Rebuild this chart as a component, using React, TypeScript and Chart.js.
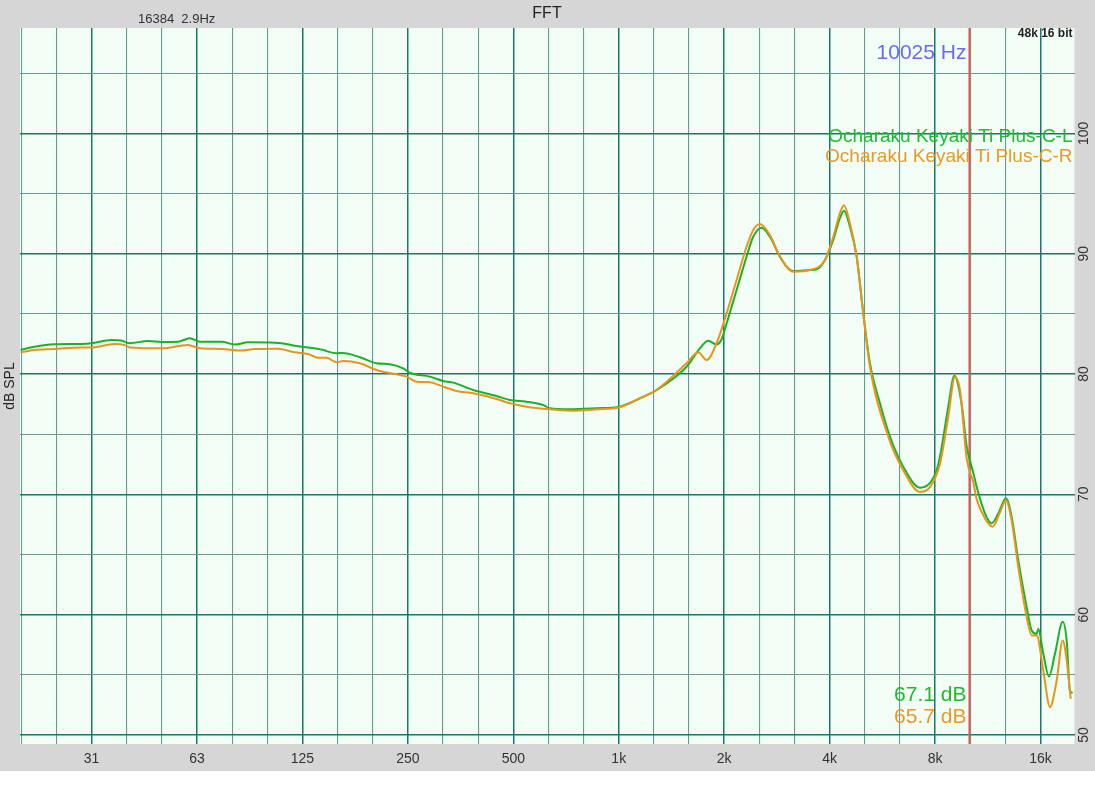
import React, { useEffect, useRef } from "react";
import { Chart, registerables } from "chart.js";

Chart.register(...registerables);

const FONT = '"Liberation Sans", Arial, Helvetica, sans-serif';

// ---- data ----
const freqL = [19.6, 21.5, 24.5, 29.2, 31.2, 35.6, 38.0, 40.2, 45.3, 49.5, 55.2, 59.6, 63.7, 73.4, 80.1, 87.5, 104.2, 108.9, 118.9, 129.8, 143.2, 146.4, 156.4, 163, 182.3, 203.5, 222, 242.4, 253.3, 288.8, 315.2, 336.6, 384, 447.8, 488.7, 545.5, 608.4, 635.7, 725.2, 864.2, 1007, 1076, 1149, 1283, 1562, 1705, 1800, 1902, 1960, 2032, 2170, 2317, 2420, 2557, 2701, 2885, 3015, 3148, 3513, 3672, 3879, 4096, 4279, 4394, 4570, 4777, 4988, 5213, 5568, 5945, 6488, 7242, 7734, 8082, 8259, 8630, 8722, 9080, 9525, 9843, 10281, 10513, 11103, 11603, 12118, 12747, 13235, 13822, 14606, 15095, 15599, 15763, 16290, 16911, 17591, 18505, 18999, 19415, 19763];
const splL = [82.0, 82.27, 82.47, 82.5, 82.55, 82.83, 82.78, 82.55, 82.74, 82.66, 82.68, 82.97, 82.68, 82.68, 82.44, 82.63, 82.6, 82.55, 82.35, 82.2, 82.0, 81.9, 81.72, 81.75, 81.39, 80.89, 80.8, 80.47, 80.1, 79.78, 79.42, 79.28, 78.67, 78.17, 77.84, 77.7, 77.42, 77.15, 77.07, 77.15, 77.28, 77.6, 77.98, 78.67, 80.6, 82.13, 82.77, 82.45, 82.8, 84.2, 86.98, 89.75, 91.4, 92.16, 91.4, 89.75, 88.92, 88.56, 88.64, 88.7, 89.48, 91.14, 92.94, 93.57, 92.24, 89.75, 85.05, 80.9, 77.56, 74.79, 72.3, 70.55, 70.95, 72.02, 73.13, 76.45, 77.28, 79.85, 77.5, 74.0, 71.8, 70.63, 68.42, 67.59, 68.4, 69.67, 68.1, 64.5, 60.62, 58.68, 58.4, 58.82, 56.75, 54.86, 56.75, 59.4, 57.82, 53.66, 53.5];

const freqR = [19.6, 21.5, 24.5, 29.2, 31.2, 36.4, 38.9, 40.2, 49.5, 58.9, 63.7, 73.4, 83.7, 91.4, 106.5, 118.9, 129.8, 138.6, 146.4, 156.4, 163.3, 182.3, 203.5, 232, 247.8, 264.6, 288.8, 315.2, 344.3, 384, 447.8, 488.7, 545.5, 635.7, 725.2, 864.2, 1007, 1149, 1283, 1562, 1686, 1781, 1902, 2032, 2170, 2317, 2420, 2529, 2701, 2885, 3148, 3513, 3879, 4096, 4279, 4394, 4570, 4777, 4988, 5213, 5880, 6488, 7242, 7734, 8259, 8630, 8722, 9116, 9420, 9843, 10281, 10513, 11103, 11681, 12254, 12747, 13235, 13822, 14606, 15095, 15599, 16290, 17022, 17788, 18505, 18999, 19505];
const splR = [81.8, 82.0, 82.08, 82.2, 82.2, 82.5, 82.4, 82.2, 82.13, 82.4, 82.13, 82.08, 81.94, 82.08, 82.1, 81.8, 81.66, 81.35, 81.35, 80.97, 81.08, 80.89, 80.33, 79.97, 79.78, 79.36, 79.31, 78.94, 78.59, 78.39, 77.92, 77.56, 77.28, 77.06, 76.95, 77.06, 77.23, 77.98, 78.67, 80.89, 81.8, 81.16, 82.55, 85.05, 87.81, 90.58, 91.97, 92.47, 91.55, 89.75, 88.5, 88.64, 89.48, 91.4, 93.36, 94.02, 92.52, 89.75, 85.05, 80.6, 74.79, 72.0, 70.2, 70.6, 72.52, 75.62, 76.45, 79.75, 78.67, 73.0, 71.0, 69.6, 68.0, 67.31, 68.5, 69.5, 67.8, 63.95, 59.8, 58.27, 58.27, 55.36, 52.31, 54.53, 57.86, 56.2, 53.0];

const seriesNames = ["Ocharaku Keyaki Ti Plus-C-L", "Ocharaku Keyaki Ti Plus-C-R"];
const seriesLevels = ["67.1 dB", "65.7 dB"];
const seriesColors = ["#1fb02a", "#e4961f"];
const seriesTextColors = ["#22b830", "#e89a28"];

const cursorHz = 10025;
const cursorLabel = "10025 Hz";
const titleText = "FFT";
const fftInfo = "16384  2.9Hz";
const formatInfo = "48k 16 bit";
const yTitle = "dB SPL";

const xMin = 19.53;
const xMax = 20000;
const yMin = 49.25;
const yMax = 108.75;

const gridFreqs = [19.69, 24.8, 31.25, 39.37, 49.61, 62.5, 78.75, 99.21, 125, 157.5, 198.4, 250, 315, 396.9, 500, 630, 793.7, 1000, 1260, 1587, 2000, 2520, 3175, 4000, 5040, 6350, 8000, 10079, 12699, 16000];
const octaveFreqs = [31.25, 62.5, 125, 250, 500, 1000, 2000, 4000, 8000, 16000];
const octaveLabels = ["31", "63", "125", "250", "500", "1k", "2k", "4k", "8k", "16k"];
const yGridValues = [50, 55, 60, 65, 70, 75, 80, 85, 90, 95, 100, 105];
const yLabelValues = [50, 60, 70, 80, 90, 100];

const W = 1095;
const H = 771;

const isOctave = (v: number) => octaveFreqs.some((f) => Math.abs(f - v) / f < 0.01);
const MAJOR = "rgba(28,118,106,1)";
const MINOR = "rgba(105,155,149,1)";

export default function App() {
  const ref = useRef<HTMLCanvasElement | null>(null);

  useEffect(() => {
    if (!ref.current) return;
    const bgPlugin = {
      id: "bgPlugin",
      beforeDraw(chart: any) {
        const { ctx, chartArea } = chart;
        ctx.save();
        ctx.fillStyle = "#d6d6d6";
        ctx.fillRect(0, 0, chart.width, chart.height);
        ctx.fillStyle = "#f2fdf5";
        ctx.fillRect(chartArea.left, chartArea.top, chartArea.right - chartArea.left, chartArea.bottom - chartArea.top);
        ctx.restore();
      },
    };
    const textPlugin = {
      id: "textPlugin",
      afterDraw(chart: any) {
        const { ctx, chartArea } = chart;
        const ys = chart.scales.y;
        ctx.save();
        ctx.fillStyle = "#222";
        ctx.font = `16px ${FONT}`;
        ctx.textAlign = "center";
        ctx.textBaseline = "middle";
        ctx.fillText(titleText, 547, 14);
        ctx.font = `13px ${FONT}`;
        ctx.fillStyle = "#333";
        ctx.textAlign = "left";
        ctx.fillText(fftInfo, 138, 19.5);
        ctx.font = `bold 12px ${FONT}`;
        ctx.fillStyle = "#222";
        ctx.textAlign = "right";
        ctx.fillText(formatInfo, chartArea.right - 2, 34);
        const cx = chart.scales.x.getPixelForValue(cursorHz);
        ctx.font = `21px ${FONT}`;
        ctx.fillStyle = "#6a6af2";
        ctx.textAlign = "right";
        ctx.fillText(cursorLabel, cx - 3, 53);
        ctx.font = `19px ${FONT}`;
        seriesNames.forEach((n, i) => {
          ctx.fillStyle = seriesTextColors[i];
          ctx.fillText(n, chartArea.right - 2, 137 + i * 19.5);
        });
        ctx.font = `21px ${FONT}`;
        seriesLevels.forEach((n, i) => {
          ctx.fillStyle = seriesTextColors[i];
          ctx.fillText(n, cx - 3, 695.5 + i * 21.5);
        });
        ctx.fillStyle = "#222";
        ctx.font = `14px ${FONT}`;
        ctx.textAlign = "center";
        ctx.translate(10, (chartArea.top + chartArea.bottom) / 2);
        ctx.rotate(-Math.PI / 2);
        ctx.fillText(yTitle, 0, 0);
        ctx.restore();
        ctx.save();
        ctx.fillStyle = "#333";
        ctx.font = `14px ${FONT}`;
        ctx.textAlign = "center";
        ctx.textBaseline = "middle";
        yLabelValues.forEach((v) => {
          const py = ys.getPixelForValue(v);
          ctx.save();
          ctx.translate(1084, py);
          ctx.rotate(-Math.PI / 2);
          ctx.fillText(String(v), 0, 0);
          ctx.restore();
        });
        ctx.restore();
      },
    };

    const chart = new Chart(ref.current, {
      type: "line",
      data: {
        datasets: [
          {
            label: seriesNames[1],
            data: freqR.map((f, i) => ({ x: f, y: splR[i] })),
            borderColor: seriesColors[1],
            borderWidth: 2,
            pointRadius: 0,
            cubicInterpolationMode: "monotone",
            order: 0,
          },
          {
            label: seriesNames[0],
            data: freqL.map((f, i) => ({ x: f, y: splL[i] })),
            borderColor: seriesColors[0],
            borderWidth: 2,
            pointRadius: 0,
            cubicInterpolationMode: "monotone",
            order: 1,
          },
          {
            label: "cursor",
            data: [
              { x: cursorHz, y: yMin },
              { x: cursorHz, y: yMax },
            ],
            borderColor: "#e05a5a",
            borderWidth: 2,
            pointRadius: 0,
            order: 2,
          },
        ],
      },
      options: {
        responsive: false,
        animation: false,
        devicePixelRatio: 1,
        parsing: false as any,
        layout: { padding: { left: 20, top: 28, right: 0, bottom: 0 } },
        plugins: { legend: { display: false }, tooltip: { enabled: false }, title: { display: false } },
        scales: {
          x: {
            type: "logarithmic",
            min: xMin,
            max: xMax,
            afterBuildTicks: (s: any) => {
              s.ticks = gridFreqs.map((v) => ({ value: v }));
            },
            afterFit: (s: any) => {
              s.height = 27;
            },
            border: { display: false },
            grid: {
              drawTicks: false,
              color: (c: any) => (isOctave(c.tick?.value) ? MAJOR : MINOR),
              lineWidth: (c: any) => (isOctave(c.tick?.value) ? 1.5 : 1.1),
            },
            ticks: {
              autoSkip: false,
              maxRotation: 0,
              minRotation: 0,
              padding: 7,
              color: "#333",
              font: { family: FONT, size: 14 },
              callback: (v: any) => {
                const idx = octaveFreqs.findIndex((f) => Math.abs(f - Number(v)) / f < 0.01);
                return idx >= 0 ? octaveLabels[idx] : "";
              },
            },
          },
          y: {
            type: "linear",
            position: "right",
            min: yMin,
            max: yMax,
            afterBuildTicks: (s: any) => {
              s.ticks = yGridValues.map((v) => ({ value: v }));
            },
            afterFit: (s: any) => {
              s.width = 20.5;
            },
            border: { display: false },
            grid: {
              drawTicks: false,
              color: (c: any) => (c.tick && c.tick.value % 10 === 0 ? MAJOR : MINOR),
              lineWidth: (c: any) => (c.tick && c.tick.value % 10 === 0 ? 1.5 : 1.1),
            },
            ticks: { display: false },
          },
        },
      },
      plugins: [bgPlugin, textPlugin],
    } as any);
    return () => chart.destroy();
  }, []);

  return (
    <div style={{ position: "absolute", left: 0, top: 0, width: W, height: H }}>
      <canvas ref={ref} width={W} height={H} style={{ display: "block", width: W, height: H }} />
    </div>
  );
}
